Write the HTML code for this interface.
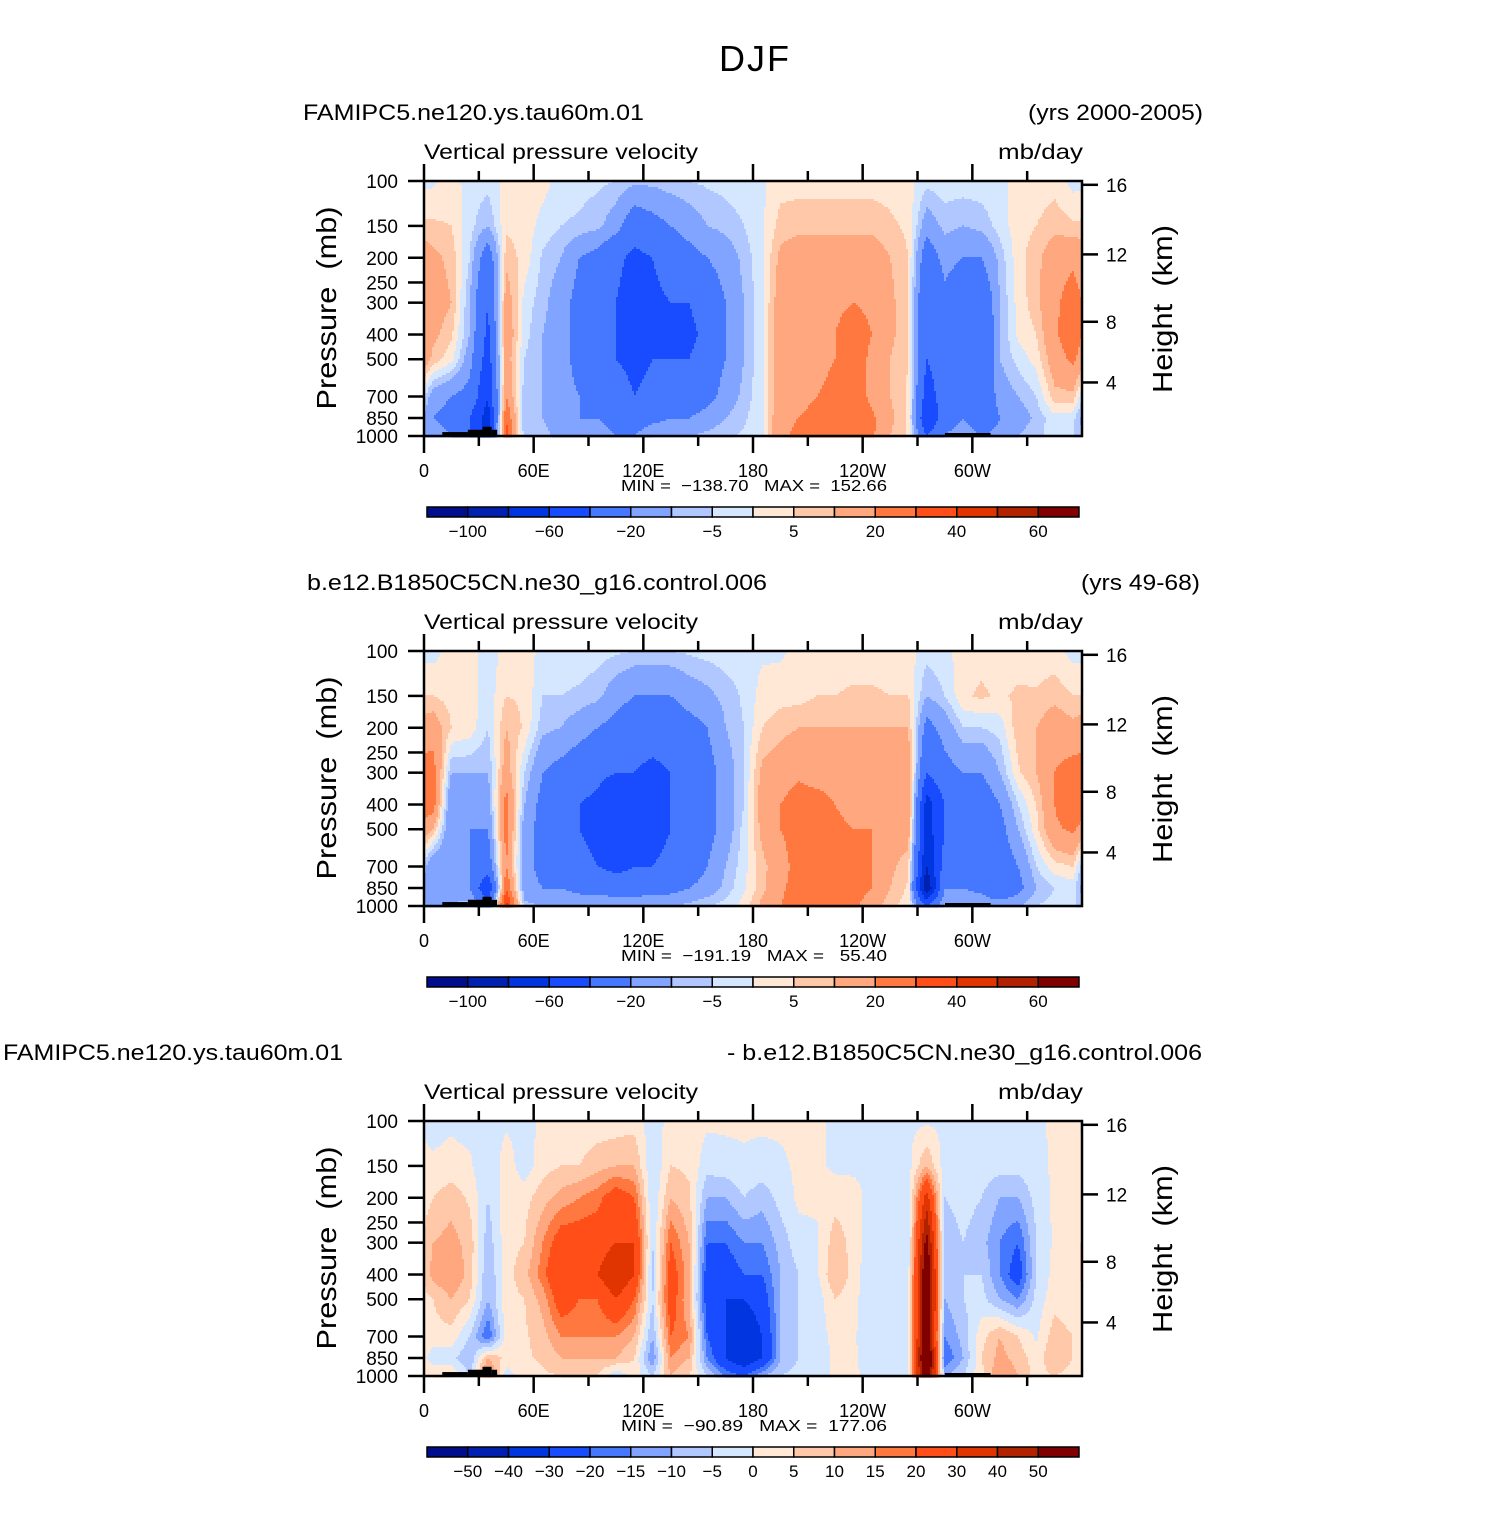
<!DOCTYPE html>
<html><head><meta charset="utf-8"><style>
html,body{margin:0;padding:0;background:#fff;}
svg text{font-family:"Liberation Sans",sans-serif;fill:#000;white-space:pre;}
</style></head><body>
<svg id="fig" width="1508" height="1509" viewBox="0 0 1508 1509" xmlns="http://www.w3.org/2000/svg">
<rect width="1508" height="1509" fill="#fff"/>
<text x="754" y="71" font-size="36" text-anchor="middle" textLength="70">DJF</text>
</svg>
<script>
// ---- data ----
const pressureLevels = [100,150,200,300,400,500,700,850,1000];
const lons = [5,15,25,35,45,55,65,75,85,95,105,115,125,135,145,155,165,175,185,195,205,215,225,235,245,255,265,275,285,295,305,315,325,335,345,355];
const levelsAbs = [-100,-80,-60,-40,-20,-10,-5,0,5,10,20,30,40,50,60];
const levelsDiff = [-50,-40,-30,-20,-15,-10,-5,0,5,10,15,20,30,40,50];
const labelsAbs = ['-100','-60','-20','-5','5','20','40','60'];
const labelsDiff = ['-50','-40','-30','-20','-15','-10','-5','0','5','10','15','20','30','40','50'];
const palette = ['#000d8c','#0020b0','#0035e0','#1a4cff','#4577ff','#80a4ff','#b0c8ff','#d5e6ff','#ffe8d5','#ffc8a8','#ffa880','#ff7840','#ff4e18','#e03500','#b02200','#800000'];

const omegaModel = [
[-1,6,12,15,12,8,-15,-20,-15],[2,5,8,10,6,2,-20,-25,-20],[-2,-3,-5,-10,-10,-15,-25,-40,-40],[-3,-10,-30,-40,-45,-50,-60,-70,-70],
[2,4,8,15,18,15,20,30,35],[3,3,3,-2,-3,-5,-8,-10,-8],[2,-2,-6,-8,-10,-10,-10,-10,-8],[-2,-5,-10,-15,-15,-15,-15,-15,-12],
[-3,-6,-20,-25,-25,-25,-20,-20,-15],[-4,-8,-25,-30,-30,-30,-25,-20,-15],[-5,-15,-35,-40,-40,-40,-30,-25,-20],[-8,-30,-45,-50,-50,-45,-40,-30,-20],
[-8,-25,-40,-45,-45,-40,-35,-25,-10],[-6,-20,-30,-40,-40,-40,-30,-20,-10],[-5,-15,-25,-40,-45,-40,-30,-20,-10],[-4,-10,-20,-30,-35,-30,-25,-15,-8],
[-3,-8,-15,-20,-20,-20,-15,-10,-6],[-2,-5,-8,-10,-10,-10,-8,-6,-4],[-1,-1,-1,-1,-1,-1,-1,-1,-1],[3,7,12,15,15,15,15,18,18],
[3,8,15,18,18,18,18,20,22],[3,8,15,18,18,18,20,22,25],[3,8,15,18,20,20,22,25,25],[3,8,15,20,25,25,25,25,25],
[3,8,15,18,20,18,18,22,22],[3,6,10,12,12,10,10,12,10],[2,4,5,5,5,5,4,4,4],[-3,-15,-30,-40,-40,-40,-50,-60,-40],
[-2,-8,-15,-25,-30,-30,-30,-30,-20],[-2,-10,-20,-35,-40,-40,-30,-20,-10],[-2,-8,-20,-35,-40,-40,-35,-35,-20],[-1,-3,-8,-10,-10,-10,-15,-20,-15],
[1,3,3,2,1,-3,-10,-15,-10],[2,5,8,8,5,2,-5,-8,-6],[3,8,15,18,18,15,8,-2,-3],[-2,6,18,25,28,22,8,-3,-4]];

const omegaControl = [
[-2,5,15,25,25,10,-20,-20,-15],[2,3,5,-10,-20,-20,-20,-15,-10],[2,3,3,-10,-20,-20,-20,-20,-5],[-3,-3,-5,-10,-15,-20,-30,-60,-30],
[2,5,10,15,25,25,20,30,45],[3,4,4,-5,-10,-15,-15,-15,-8],[-2,-5,-8,-20,-25,-25,-25,-20,-10],[-2,-5,-10,-25,-25,-25,-25,-20,-10],
[-2,-6,-15,-30,-40,-40,-35,-25,-10],[-3,-8,-20,-35,-45,-45,-40,-25,-10],[-4,-15,-25,-40,-60,-60,-45,-30,-10],[-5,-20,-30,-40,-50,-50,-40,-30,-10],
[-5,-20,-30,-45,-60,-55,-40,-25,-10],[-5,-20,-30,-40,-40,-40,-30,-25,-10],[-4,-15,-25,-30,-35,-35,-30,-20,-8],[-3,-12,-20,-25,-25,-25,-20,-15,-5],
[-2,-8,-10,-15,-15,-15,-10,-8,-3],[-2,-4,-5,-5,-5,-3,-2,-1,2],[-1,2,5,12,15,12,8,8,12],[-1,3,8,15,20,20,15,18,20],
[2,3,10,18,25,25,25,25,25],[2,5,10,15,25,25,25,25,28],[2,5,10,15,20,25,25,25,25],[2,6,10,12,12,20,25,25,22],
[2,6,10,15,15,20,20,20,15],[2,5,10,15,15,15,12,10,6],[2,5,10,15,20,15,6,4,3],[-3,-10,-25,-40,-70,-70,-80,-100,-40],
[-1,-5,-15,-25,-40,-40,-30,-20,-8],[2,4,-5,-20,-35,-40,-30,-20,-8],[3,6,-5,-20,-30,-35,-30,-25,-10],[2,4,-3,-10,-20,-25,-30,-40,-10],
[2,6,8,4,-5,-10,-20,-25,-10],[1,6,10,10,5,3,-5,-10,-5],[2,8,15,20,20,18,3,-5,-3],[-2,5,12,25,30,22,5,-3,-3]];

const omegaDiff = [
[-2,1,5,10,12,5,3,-3,5],[-1,2,8,12,15,10,3,-3,5],[-2,1,4,8,8,5,-5,-10,-5],[-2,-5,-5,-8,-10,-10,-20,10,20],
[-1,3,3,3,3,3,3,3,-3],[-2,-3,3,5,8,5,4,4,3],[1,3,8,15,18,12,8,6,4],[2,5,12,25,30,25,15,10,5],
[2,5,15,25,25,20,15,10,5],[2,8,18,25,30,20,15,10,5],[2,10,25,30,40,30,15,10,-5],[3,10,20,30,30,20,10,5,3],
[-3,-5,-5,-5,-8,-5,-10,-15,-5],[2,5,10,20,25,25,20,15,10],[2,4,6,10,12,10,15,10,5],[1,-3,-10,-20,-25,-25,-20,-15,-5],
[1,-2,-10,-20,-25,-30,-30,-30,-15],[1,-1,-5,-15,-20,-30,-40,-40,-20],[1,-2,-8,-15,-20,-25,-30,-30,-10],[1,-1,-3,-8,-10,-10,-10,-10,-5],
[1,1,1,-2,-5,-5,-5,-5,-3],[1,1,1,-1,-1,-3,-3,-3,-2],[-1,-1,3,8,10,5,2,1,1],[-1,-1,2,3,3,2,1,1,1],
[-1,-1,-2,-3,-5,-5,-5,-3,-2],[-1,-2,-3,-5,-5,-3,-3,-3,-2],[-1,-2,-3,-3,-2,-2,-2,-2,-2],[-1,10,35,55,65,65,65,75,65],
[-1,-3,-5,-8,-10,-10,-15,-20,-10],[-1,-2,-3,-5,-5,-5,-8,-10,-5],[-1,-2,-5,-8,-5,-3,3,5,3],[-1,-3,-10,-15,-15,-10,10,12,15],
[-1,-3,-10,-20,-25,-15,5,8,10],[-1,-2,-3,-5,-5,-3,-1,2,3],[1,1,1,1,2,3,8,10,5],[1,1,1,1,1,1,5,5,3]];

const panelTitlesLeft = ['FAMIPC5.ne120.ys.tau60m.01','b.e12.B1850C5CN.ne30_g16.control.006','FAMIPC5.ne120.ys.tau60m.01'];
const panelTitlesRight = ['(yrs 2000-2005)','(yrs 49-68)','- b.e12.B1850C5CN.ne30_g16.control.006'];
const minMaxText = ['MIN =  \u2212138.70   MAX =  152.66','MIN =  \u2212191.19   MAX =   55.40','MIN =  \u221290.89   MAX =  177.06'];
const pTicks = [100,150,200,250,300,400,500,700,850,1000];
const hTicks = [16,12,8,4];
const hTicksPressure = [103.5,194,356.5,616.6];
const lonTicks = [0,60,120,180,240,300];
const lonTickLabels = ['0','60E','120E','180','120W','60W'];

// ---- drawing ----
const NS='http://www.w3.org/2000/svg';
const svg=document.getElementById('fig');
const X0=424, W=658, H=255;
function el(tag,attrs,parent){const e=document.createElementNS(NS,tag);for(const k in attrs)e.setAttribute(k,attrs[k]);(parent||svg).appendChild(e);return e;}
function txt(x,y,s,size,anchor,parent,len){const a={x:x,y:y,'font-size':size,'text-anchor':anchor||'start'};if(len){a.textLength=len;a.lengthAdjust='spacingAndGlyphs';}
  const t=el('text',a,parent);t.textContent=s;return t;}
function minus(s){return s.replace(/-/g,'\u2212');}
function xScale(lon){return X0+lon/360*W;}
function yScale(p,y0){return y0+Math.log10(p/100)*H;}
function sample(data,lon,p){
  let c=(lon-lons[0])/10; let i0=Math.floor(c), f=c-i0;
  const n=data.length; const a=((i0%n)+n)%n, b=(a+1)%n;
  const lp=Math.log10(p); let j=0;
  while(j<pressureLevels.length-2 && Math.log10(pressureLevels[j+1])<lp) j++;
  const l0=Math.log10(pressureLevels[j]), l1=Math.log10(pressureLevels[j+1]);
  let g=(lp-l0)/(l1-l0); g=Math.max(0,Math.min(1,g));
  const v0=data[a][j]*(1-f)+data[b][j]*f, v1=data[a][j+1]*(1-f)+data[b][j+1]*f;
  return v0*(1-g)+v1*g;
}
function colorIdx(v,levels){let k=0;while(k<levels.length&&v>=levels[k])k++;return k;}

const leftTitleLen=[341,460,340], rightTitleLen=[175,119,475];
const leftTitleX=[303,307,3], rightTitleX=[1203,1200,1202];

function drawPanel(idx,y0,data,levels,cbLabels){
  const g=el('g',{});
  
  
  txt(leftTitleX[idx],y0-61,panelTitlesLeft[idx],22,'start',g,leftTitleLen[idx]);
  txt(rightTitleX[idx],y0-61,panelTitlesRight[idx],22,'end',g,rightTitleLen[idx]);
  txt(424,y0-22,'Vertical pressure velocity',21,'start',g,274);
  txt(1083,y0-22,'mb/day',21,'end',g,85);
  const field=el('g',{},g);
  
  
  const step=2;
  for(let py=0;py<H;py+=step){
    const p=100*Math.pow(10,(py+step/2)/H);
    let runStart=0, runC=-1;
    for(let px=0;px<=W;px+=step){
      let c=-1;
      if(px<W){const lon=(px+step/2)/W*360;c=colorIdx(sample(data,lon,p),levels);}
      if(c!==runC){
        if(runC>=0){el('rect',{x:X0+runStart,y:y0+py,width:px-runStart+0.6,height:step+0.6,fill:palette[runC]},field);}
        runStart=px;runC=c;
      }
    }
  }
  const topo=[[10,24,1000,965],[24,32,975,945],[32,37,950,920],[37,40,965,945]];
  topo.forEach(t=>{const r=el('rect',{x:xScale(t[0]),y:yScale(t[3],y0),width:xScale(t[1])-xScale(t[0]),height:yScale(1000,y0)-yScale(t[3],y0),fill:'#000'},g);
    });
  const r2=el('rect',{x:xScale(285),y:y0+H-3,width:xScale(310)-xScale(285),height:3,fill:'#000'},g);
  
  const fr=el('rect',{x:X0,y:y0,width:W,height:H,fill:'none',stroke:'#000','stroke-width':2.5},g);
  
  pTicks.forEach(p=>{const y=yScale(p,y0);el('line',{x1:X0-16,x2:X0,y1:y,y2:y,stroke:'#000','stroke-width':2.5},g);
    txt(398,y+7,String(p),19,'end',g);});
  hTicks.forEach((h,i)=>{const y=yScale(hTicksPressure[i],y0);
    el('line',{x1:X0+W,x2:X0+W+16,y1:y,y2:y,stroke:'#000','stroke-width':2.5},g);
    txt(1106,y+7,String(h),19,'start',g);});
  for(let lon=0;lon<360;lon+=30){const x=xScale(lon);const len=lon%60===0?17:10;
    el('line',{x1:x,x2:x,y1:y0+H,y2:y0+H+len,stroke:'#000','stroke-width':2.5},g);
    el('line',{x1:x,x2:x,y1:y0,y2:y0-len,stroke:'#000','stroke-width':2.5},g);}
  lonTicks.forEach((lon,i)=>{txt(xScale(lon),y0+H+41,lonTickLabels[i],18,'middle',g);});
  txt(754,y0+H+55,minMaxText[idx],16,'middle',g,266);
  const yt=el('text',{x:0,y:0,'font-size':28,'text-anchor':'middle',textLength:203,lengthAdjust:'spacingAndGlyphs',transform:'translate(336,'+(y0+127)+') rotate(-90)'},g);
  yt.textContent='Pressure  (mb)';
  const yt2=el('text',{x:0,y:0,'font-size':28,'text-anchor':'middle',textLength:168,lengthAdjust:'spacingAndGlyphs',transform:'translate(1172,'+(y0+128)+') rotate(-90)'},g);
  yt2.textContent='Height  (km)';
  const cb=el('g',{},g);
  const cy=y0+326, cx=427, cw=652/16;
  palette.forEach((c,k)=>{const r=el('rect',{x:cx+k*cw,y:cy,width:cw,height:10,fill:c,stroke:'#000','stroke-width':1.5},cb);
    });
  const labelStep = cbLabels.length===15?1:2;
  cbLabels.forEach((s,k)=>{const x=cx+(k*labelStep+1)*cw;txt(x,cy+30,minus(s),17,'middle',cb);});
}
drawPanel(0,181,omegaModel,levelsAbs,labelsAbs);
drawPanel(1,651,omegaControl,levelsAbs,labelsAbs);
drawPanel(2,1121,omegaDiff,levelsDiff,labelsDiff);
</script>
</body></html>
